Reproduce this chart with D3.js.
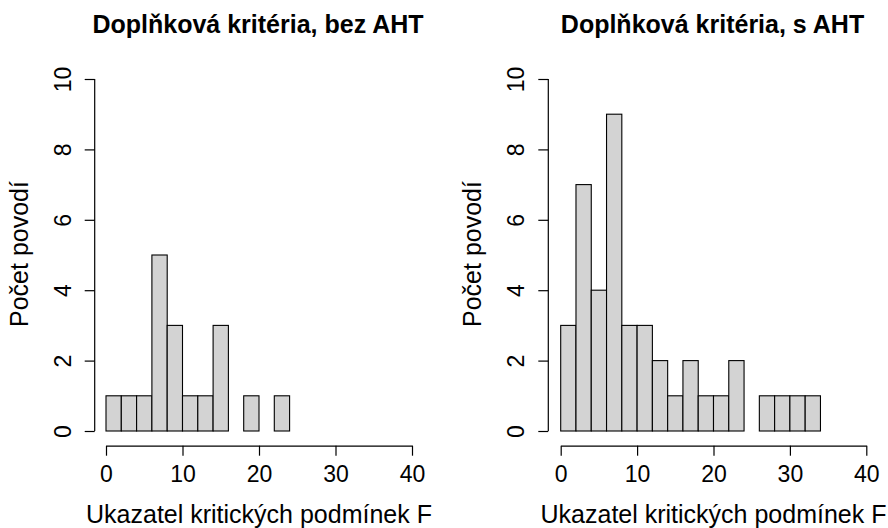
<!DOCTYPE html>
<html>
<head>
<meta charset="utf-8">
<script src="https://cdn.jsdelivr.net/npm/d3@7"></script>
<style>
  body { margin: 0; background: #fff; }
  svg { display: block; }
  text { font-family: "Liberation Sans", Arial, sans-serif; fill: #000; }
</style>
</head>
<body>
<div id="chart"></div>
<script>
// histogram bin edges (width 2)
const breaks = [0, 2, 4, 6, 8, 10, 12, 14, 16, 18, 20, 22, 24, 26, 28, 30, 32, 34, 36, 38, 40];
const countsBez = [1, 1, 1, 5, 3, 1, 1, 3, 0, 1, 0, 1, 0, 0, 0, 0, 0, 0, 0, 0];
const countsS = [3, 7, 4, 9, 3, 3, 2, 1, 2, 1, 1, 2, 0, 1, 1, 1, 1, 0, 0, 0];
const titles = ["Doplňková kritéria, bez AHT", "Doplňková kritéria, s AHT"];
const xTicks = [0, 10, 20, 30, 40];
const yTicks = [0, 2, 4, 6, 8, 10];
const xLabel = "Ukazatel kritických podmínek F";
const yLabel = "Počet povodí";

const W = 888, H = 528;
const svg = d3.select("#chart").append("svg")
  .attr("width", W)
  .attr("height", H);

// panel geometry
const panels = [
  {counts: countsBez, title: titles[0], yAxisX: 94.7, x0: 106, x1: 412},
  {counts: countsS, title: titles[1], yAxisX: 548.3, x0: 560.7, x1: 866.3}
];

const yTop = 79, yBot = 431, xAxisY = 445.7;

panels.forEach(p => {
  const g = svg.append("g");

  const x = d3.scaleLinear().domain([0, 40]).range([p.x0, p.x1]);
  const y = d3.scaleLinear().domain([0, 10]).range([yBot, yTop]);

  const bins = p.counts.map((c, i) => ({lo: breaks[i], hi: breaks[i + 1], n: c}));

  g.selectAll("rect.bar")
    .data(bins)
    .enter()
    .append("rect")
    .attr("class", "bar")
    .attr("x", d => x(d.lo))
    .attr("y", d => y(d.n))
    .attr("width", d => x(d.hi) - x(d.lo))
    .attr("height", d => y(0) - y(d.n))
    .attr("fill", "#d3d3d3")
    .attr("stroke", "#000")
    .attr("stroke-width", 1.1);

  // x axis (R style, offset below)
  const xa = g.append("g")
    .attr("transform", `translate(0,${xAxisY})`)
    .call(d3.axisBottom(x).tickValues(xTicks).tickSize(10).tickSizeOuter(0));
  xa.selectAll("path, line").attr("stroke", "#000").attr("stroke-width", 1.2);
  xa.selectAll("text")
    .attr("y", 0)
    .attr("dy", 0)
    .attr("transform", "translate(0,36)")
    .style("font-size", "23px");

  // y axis with rotated labels
  const ya = g.append("g")
    .attr("transform", `translate(${p.yAxisX},0)`)
    .call(d3.axisLeft(y).tickValues(yTicks).tickSize(10).tickSizeOuter(0));
  ya.selectAll("path, line").attr("stroke", "#000").attr("stroke-width", 1.2);
  ya.selectAll("text")
    .attr("x", 0)
    .attr("dy", 0)
    .attr("text-anchor", "middle")
    .attr("transform", "translate(-24,0) rotate(-90)")
    .style("font-size", "23px");
  ya.selectAll(".domain").attr("d", `M0,${yBot}V${yTop}`);

  const cx = (p.x0 + p.x1) / 2;

  g.append("text")
    .attr("x", cx - 1)
    .attr("y", 33)
    .attr("text-anchor", "middle")
    .style("font-size", "25px")
    .style("font-weight", "bold")
    .text(p.title);

  g.append("text")
    .attr("x", cx)
    .attr("y", 523)
    .attr("text-anchor", "middle")
    .style("font-size", "25px")
    .text(xLabel);

  g.append("text")
    .attr("transform", `translate(${p.yAxisX - 67},${(yTop + yBot) / 2 - 1}) rotate(-90)`)
    .attr("text-anchor", "middle")
    .style("font-size", "25px")
    .text(yLabel);
});
</script>
</body>
</html>
